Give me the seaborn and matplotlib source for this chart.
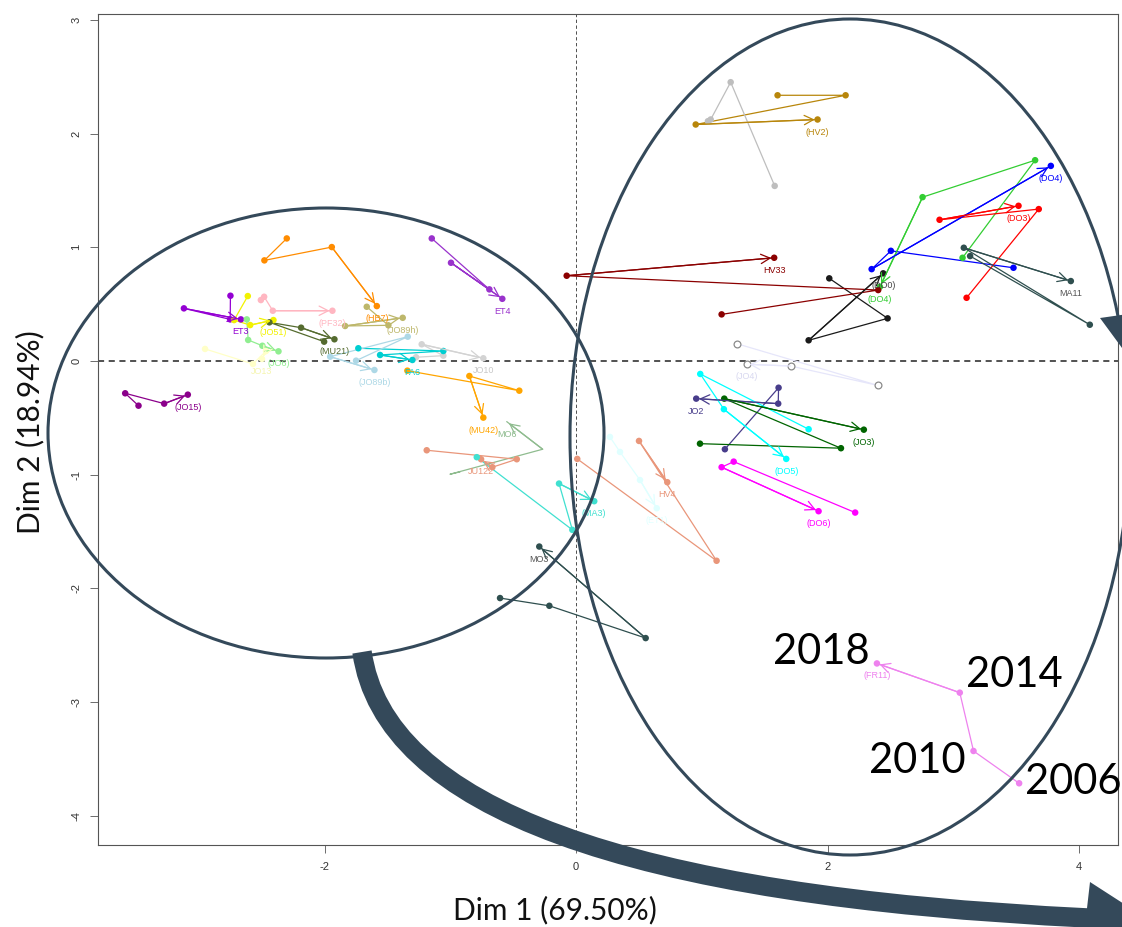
import numpy as np
import pandas as pd
import matplotlib
matplotlib.use("Agg")
import matplotlib.pyplot as plt
import seaborn as sns
from matplotlib.patches import Ellipse, Polygon, PathPatch
from matplotlib.path import Path

# ---------------- data ----------------
years = [2006, 2010, 2014, 2018]

region_ids = ["JO15", "ET3", "JO51", "JO6", "JO13", "PF32", "HB7", "MU21", "JO89h", "JO10",
              "FA6", "JO89b", "ET4", "MU42", "MO6", "JU122", "MA3", "MO3", "HV4", "ET1",
              "HV2", "HV1", "DO4g", "DO4b", "DO3", "MA11", "DO0", "HV33", "JO4", "JO2",
              "DO5", "JO3", "DO6", "FR11"]

region_labels = ["(JO15)", "ET3", "(JO51)", "(JO6)", "JO13", "(PF32)", "(HB7)", "(MU21)", "(JO89h)", "JO10",
                 "FA6", "(JO89b)", "ET4", "(MU42)", "MO6", "JU122", "(MA3)", "MO3", "HV4", "(ET1)",
                 "(HV2)", "", "(DO4)", "(DO4)", "(DO3)", "MA11", "(DO0)", "HV33", "(JO4)", "JO2",
                 "(DO5)", "(JO3)", "(DO6)", "(FR11)"]

dim1 = [
    [-3.479, -3.585, -3.275, -3.087],
    [-2.748, -2.750, -3.118, -2.665],
    [-2.610, -2.719, -2.591, -2.406],
    [-2.618, -2.607, -2.494, -2.366],
    [-2.950, -2.569, -2.465, -2.497],
    [-2.506, -2.480, -2.411, -1.937],
    [-2.300, -2.478, -1.942, -1.584],
    [-2.003, -2.438, -2.186, -1.921],
    [-1.664, -1.492, -1.836, -1.378],
    [-1.272, -1.055, -1.227, -0.737],
    [-1.731, -1.055, -1.558, -1.301],
    [-1.749, -1.338, -1.955, -1.603],
    [-1.147, -0.689, -0.994, -0.586],
    [-1.341, -0.451, -0.848, -0.737],
    [-0.922, -1.002, -0.265, -0.551],
    [-1.187, -0.471, -0.665, -0.755],
    [-0.789, -0.029, -0.135, 0.145],
    [-0.604, -0.212, 0.554, -0.292],
    [0.010, 1.118, 0.501, 0.726],
    [0.270, 0.350, 0.509, 0.642],
    [1.603, 2.144, 0.952, 1.921],
    [1.049, 1.071, 1.230, 1.580],
    [3.074, 3.651, 2.756, 2.417],
    [3.479, 2.504, 2.351, 3.776],
    [3.106, 3.680, 2.891, 3.519],
    [3.134, 4.086, 3.084, 3.935],
    [2.014, 2.478, 1.850, 2.443],
    [1.158, 2.403, -0.074, 1.576],
    [1.280, 2.398, 1.707, 1.357],
    [1.184, 1.611, 1.608, 0.956],
    [1.850, 0.988, 1.176, 1.672],
    [0.986, 2.107, 1.179, 2.289],
    [2.220, 1.254, 1.158, 1.929],
    [3.524, 3.161, 3.052, 2.393],
]

dim2 = [
    [-0.393, -0.284, -0.375, -0.296],
    [0.574, 0.366, 0.463, 0.366],
    [0.571, 0.360, 0.316, 0.360],
    [0.366, 0.185, 0.134, 0.085],
    [0.106, -0.026, 0.088, 0.018],
    [0.536, 0.565, 0.442, 0.442],
    [1.078, 0.885, 1.002, 0.483],
    [0.170, 0.340, 0.293, 0.191],
    [0.477, 0.314, 0.308, 0.380],
    [0.033, 0.047, 0.147, 0.024],
    [0.112, 0.088, 0.053, 0.009],
    [0.003, 0.214, 0.038, -0.079],
    [1.078, 0.630, 0.864, 0.547],
    [-0.085, -0.261, -0.132, -0.498],
    [-0.975, -0.996, -0.776, -0.533],
    [-0.785, -0.864, -0.934, -0.864],
    [-0.846, -1.485, -1.078, -1.233],
    [-2.085, -2.153, -2.437, -1.632],
    [-0.861, -1.757, -0.703, -1.066],
    [-0.668, -0.800, -1.047, -1.295],
    [2.337, 2.337, 2.080, 2.124],
    [2.109, 2.124, 2.452, 1.540],
    [0.908, 1.766, 1.441, 0.653],
    [0.820, 0.969, 0.808, 1.716],
    [0.556, 1.336, 1.242, 1.365],
    [0.923, 0.319, 0.996, 0.703],
    [0.727, 0.375, 0.182, 0.771],
    [0.410, 0.624, 0.750, 0.908],
    [0.152, -0.214, -0.044, -0.029],
    [-0.776, -0.235, -0.375, -0.331],
    [-0.600, -0.114, -0.424, -0.861],
    [-0.727, -0.767, -0.331, -0.604],
    [-1.333, -0.885, -0.934, -1.321],
    [-3.714, -3.430, -2.917, -2.660],
]

x_ticks = [-2, 0, 2, 4]
y_ticks = [-4, -3, -2, -1, 0, 1, 2, 3]
x_title = "Dim 1 (69.50%)"
y_title = "Dim 2 (18.94%)"
year_annotations = ["2018", "2014", "2010", "2006"]

# ---------------- styles ----------------
colors = {
    "JO15": "#8B008B", "ET3": "#9400D3", "JO51": "#F2F200", "JO6": "#90EE90", "JO13": "#FFFFC8",
    "PF32": "#FFB6C1", "HB7": "#FF8C00", "MU21": "#556B2F", "JO89h": "#BDB76B", "JO10": "#D3D3D3",
    "FA6": "#00CED1", "JO89b": "#ADD8E6", "ET4": "#9932CC", "MU42": "#FFA500", "MO6": "#8FBC8F",
    "JU122": "#E9967A", "MA3": "#40E0D0", "MO3": "#2F4F4F", "HV4": "#E9967A", "ET1": "#E0FFFF",
    "HV2": "#B8860B", "HV1": "#BEBEBE", "DO4g": "#32CD32", "DO4b": "#0000FF", "DO3": "#FF0000",
    "MA11": "#2F4F4F", "DO0": "#1A1A1A", "HV33": "#8B0000", "JO4": "#E6E6FA", "JO2": "#483D8B",
    "DO5": "#00FFFF", "JO3": "#006400", "DO6": "#FF00FF", "FR11": "#EE82EE",
}
label_colors = dict(colors)
label_colors.update({"JO10": "#C8C8C8", "MO3": "#555555", "MA11": "#555555", "JO4": "#D8D8F0",
                     "DO0": "#444444", "JO13": "#F5F5B0"})
no_marker = {"MO6"}
open_marker = {"JO4"}
no_arrow = {"HV1"}

ANN = "#34495A"

# ---------------- build table ----------------
rows = []
for rid, xs, ys in zip(region_ids, dim1, dim2):
    for yr, xv, yv in zip(years, xs, ys):
        rows.append({"id": rid, "year": yr, "dim1": xv, "dim2": yv})
df = pd.DataFrame(rows)

sns.set_theme(style="white")
plt.rcParams["font.family"] = ["Liberation Sans", "DejaVu Sans"]
plt.rcParams["axes.unicode_minus"] = False

W, H = 1122, 927
fig = plt.figure(figsize=(W / 100, H / 100), dpi=100)
ax = fig.add_axes([98 / W, 1 - 845 / H, (1118 - 98) / W, (845 - 14) / H])

ax.axhline(0, color="#222222", lw=1.1, ls=(0, (4, 3)), zorder=1)
ax.axvline(0, color="#333333", lw=0.6, ls=(0, (4, 3)), zorder=1)

sns.lineplot(data=df, x="dim1", y="dim2", hue="id", palette=colors, sort=False,
             estimator=None, legend=False, linewidth=0.9, ax=ax, zorder=2)

pts = df[~df["id"].isin(no_marker | open_marker)]
sns.scatterplot(data=pts, x="dim1", y="dim2", hue="id", palette=colors, s=22,
                linewidth=0, legend=False, ax=ax, zorder=3)
op = df[df["id"].isin(open_marker)]
sns.scatterplot(data=op, x="dim1", y="dim2", s=24, facecolor="white",
                edgecolor="#8A8A8A", linewidth=0.9, legend=False, ax=ax, zorder=3)

for rid, lab, xs, ys in zip(region_ids, region_labels, dim1, dim2):
    c = colors[rid]
    if rid not in no_arrow:
        ax.annotate("", xy=(xs[3], ys[3]), xytext=(xs[2], ys[2]),
                    arrowprops=dict(arrowstyle="->,head_length=0.55,head_width=0.28",
                                    color=c, lw=0.9, shrinkA=0, shrinkB=2), zorder=3)
    if lab:
        ax.annotate(lab, xy=(xs[3], ys[3]), xytext=(0, -9), textcoords="offset points",
                    ha="center", va="center", fontsize=6.5, color=label_colors[rid], zorder=4)

ax.set_xlim((98 - 576) / 125.75, (1118 - 576) / 125.75)
ax.set_ylim((361 - 845) / 113.7, (361 - 14) / 113.7)
ax.set_xticks(x_ticks)
ax.set_yticks(y_ticks)
ax.set_xticklabels([str(v) for v in x_ticks])
ax.set_yticklabels([str(v) for v in y_ticks], rotation=90, va="center")
ax.tick_params(axis="both", direction="out", length=6, width=0.6, color="#555555",
               labelsize=8, labelcolor="#333333", pad=6, left=True, bottom=True)
ax.set_xlabel("")
ax.set_ylabel("")
for sp in ax.spines.values():
    sp.set_color("#555555")
    sp.set_linewidth(0.8)

fig.text(555 / W, 1 - 910 / H, x_title, ha="center", va="center", fontsize=21.5,
         family=["Lato", "DejaVu Sans"], color="#111111")
fig.text(30 / W, 1 - 432 / H, y_title, ha="center", va="center", rotation=90, fontsize=21.5,
         family=["Lato", "DejaVu Sans"], color="#111111")

# ---------------- annotation overlay (pixel space) ----------------
ov = fig.add_axes([0, 0, 1, 1], zorder=10)
ov.set_xlim(0, W)
ov.set_ylim(H, 0)
ov.axis("off")
ov.patch.set_alpha(0)

ov.add_patch(Ellipse((326, 433), 556, 450, fill=False, edgecolor=ANN, lw=2.2))
ov.add_patch(Ellipse((850, 437), 560, 836, fill=False, edgecolor=ANN, lw=2.2))

band = Path([(362, 652), (395, 885), (1088, 918)], [Path.MOVETO, Path.CURVE3, Path.CURVE3])
ov.add_patch(PathPatch(band, facecolor="none", edgecolor=ANN, lw=14, capstyle="butt"))
ov.add_patch(Polygon([(1090, 882), (1082, 952), (1152, 922)], closed=True, color=ANN, lw=0))
ov.add_patch(Polygon([(1100, 318), (1128, 314), (1125, 352)], closed=True, color=ANN, lw=0))

year_pos = [(821, 652), (1014, 675), (917, 761), (1073, 782)]
for t, (px, py) in zip(year_annotations, year_pos):
    ov.text(px, py, t, ha="center", va="center", fontsize=30,
            family=["Lato", "DejaVu Sans"], color="black")

fig.savefig("out.png", dpi=100, facecolor="white")
